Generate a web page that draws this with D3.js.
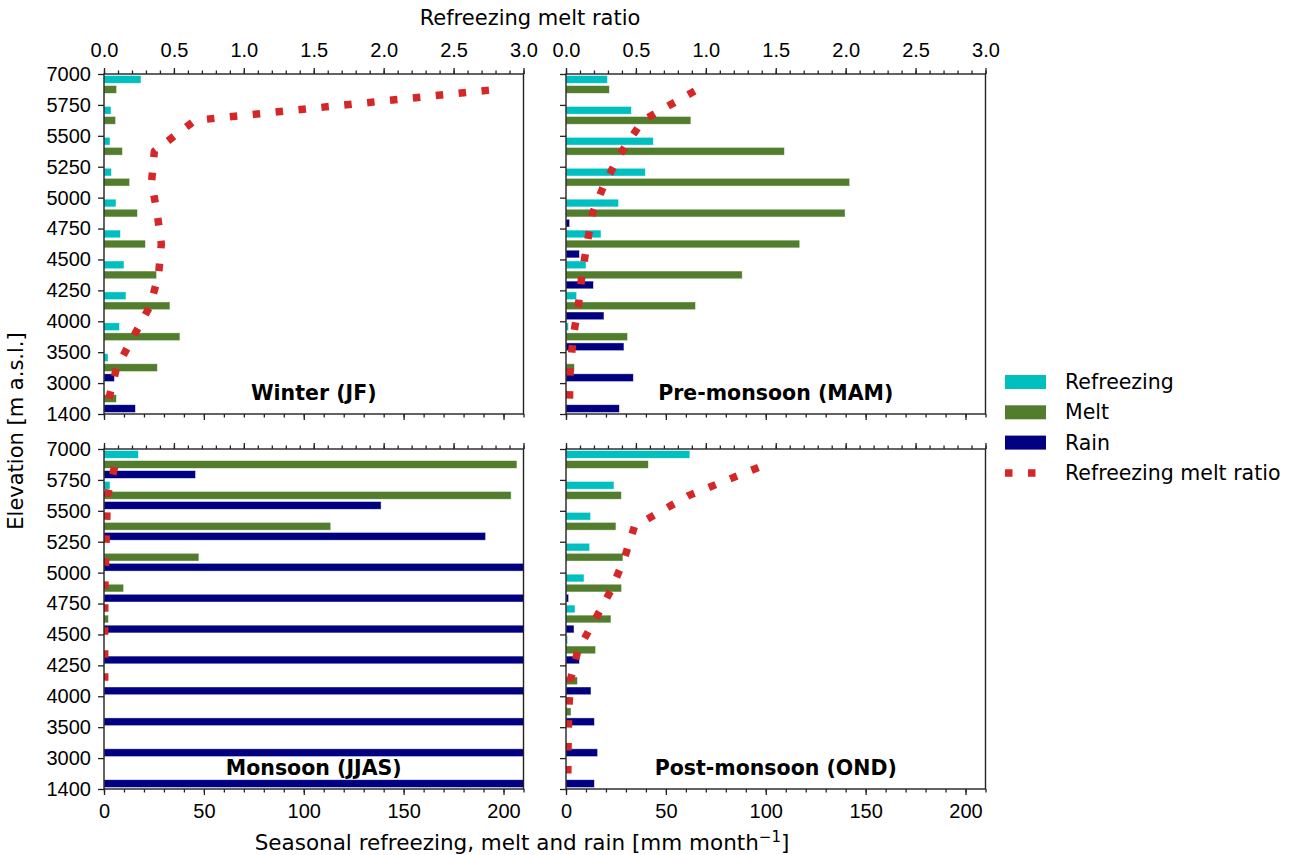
<!DOCTYPE html>
<html>
<head>
<meta charset="utf-8">
<script src="https://cdn.jsdelivr.net/npm/d3@7"></script>
<style>
  html, body { margin: 0; padding: 0; background: #fff; }
  svg { display: block; font-family: "DejaVu Sans", sans-serif; }
  .tick text { font-size: 20px; fill: #000; }
</style>
</head>
<body>
<svg id="chart" width="1298" height="855"></svg>
<script>
// Elevation band edges (m a.s.l.), listed top to bottom
const edges = [7000, 5750, 5500, 5250, 5000, 4750, 4500, 4250, 4000, 3500, 3000, 1400];
const bins = edges.slice(0, -1).map((e, i) => `${edges[i + 1]}-${e}`);

const seriesNames = ["Refreezing", "Melt", "Rain"];
const ratioName = "Refreezing melt ratio";
const xTicks = [0, 50, 100, 150, 200];
const ratioTicks = [0, 0.5, 1, 1.5, 2, 2.5, 3];

// Winter (JF) — mm month^-1 per band, top band first
const winterRefreezing = [18.5, 3.5, 3.0, 3.7, 6.0, 8.2, 10.0, 11.0, 7.7, 2.0, 0];
const winterMelt       = [6.3, 5.8, 9.2, 12.8, 16.7, 20.7, 26.3, 33.0, 38.0, 26.7, 6.2];
const winterRain       = [0, 0, 0, 0, 0, 0, 0, 0, 0, 5.2, 15.7];
const winterRatio      = [2.8, 0.65, 0.36, 0.34, 0.38, 0.41, 0.39, 0.33, 0.21, 0.09, 0.035];

// Pre-monsoon (MAM)
const premonRefreezing = [20.7, 32.7, 43.7, 39.7, 26.3, 17.5, 10.0, 5.3, 1.2, 0, 0];
const premonMelt       = [21.7, 62.5, 109.3, 142.0, 139.7, 117.0, 88.2, 64.8, 30.8, 4.2, 0];
const premonRain       = [0, 0, 0, 0, 1.8, 6.7, 13.7, 19.0, 29.0, 33.7, 26.7];
const premonRatio      = [0.94, 0.55, 0.40, 0.28, 0.19, 0.15, 0.114, 0.088, 0.052, 0.03, 0.025];

// Monsoon (JJAS) — rain below 5250 m runs past the axis limit
const monsoonRefreezing = [17.2, 3.0, 0, 0, 0, 0, 0, 0, 0, 0, 0];
const monsoonMelt       = [206.7, 203.8, 113.5, 47.5, 9.8, 2.2, 0, 0, 0, 0, 0];
const monsoonRain       = [45.8, 138.7, 191.0, 235, 250, 262, 270, 278, 285, 290, 295];
const monsoonRatio      = [0.08, 0.025, 0.018, 0.012, 0.006, 0.005, 0.005, 0.005, null, null, null];

// Post-monsoon (OND)
const postmonRefreezing = [62.0, 24.0, 12.3, 11.8, 9.0, 4.5, 0.8, 0, 0, 0, 0];
const postmonMelt       = [41.2, 27.7, 25.0, 28.5, 27.8, 22.5, 14.8, 5.7, 2.5, 0, 0];
const postmonRain       = [0, 0, 0, 0, 1.3, 4.0, 6.7, 12.5, 14.2, 15.8, 14.2];
const postmonRatio      = [1.43, 0.88, 0.49, 0.42, 0.33, 0.21, 0.086, 0.03, 0.02, 0.015, 0.013];

const panels = [
  { title: "Winter (JF)", refreezing: winterRefreezing, melt: winterMelt, rain: winterRain, ratio: winterRatio },
  { title: "Pre-monsoon (MAM)", refreezing: premonRefreezing, melt: premonMelt, rain: premonRain, ratio: premonRatio },
  { title: "Monsoon (JJAS)", refreezing: monsoonRefreezing, melt: monsoonMelt, rain: monsoonRain, ratio: monsoonRatio },
  { title: "Post-monsoon (OND)", refreezing: postmonRefreezing, melt: postmonMelt, rain: postmonRain, ratio: postmonRatio }
];

const colors = { Refreezing: "#00bfbf", Melt: "#527d2c", Rain: "#000080", ratio: "#d62728" };

const svg = d3.select("#chart");
const W = 419.5, H = 340;
const lefts = [104, 566], tops = [74, 449];

const x = d3.scaleLinear().domain([0, 210]).range([0, W]);
const xr = d3.scaleLinear().domain([0, 3]).range([0, W]);
const yEdge = d3.scalePoint().domain(edges).range([0, H]);
const yBin = d3.scaleBand().domain(bins).range([0, H]).padding(0);

const barH = 0.25, barOff = [-0.325, 0, 0.325];

panels.forEach((p, k) => {
  const col = k % 2, row = Math.floor(k / 2);
  const g = svg.append("g").attr("transform", `translate(${lefts[col]},${tops[row]})`);
  const clipId = `clip${k}`;
  g.append("clipPath").attr("id", clipId).append("rect").attr("width", W).attr("height", H);
  const plot = g.append("g").attr("clip-path", `url(#${clipId})`);

  const series = [p.refreezing, p.melt, p.rain];
  series.forEach((vals, s) => {
    plot.selectAll(null).data(vals.map((v, i) => ({ v, bin: bins[i] })))
      .join("rect")
      .attr("x", x(0))
      .attr("y", d => yBin(d.bin) + yBin.bandwidth() * (0.5 + barOff[s] - barH / 2))
      .attr("width", d => x(d.v) - x(0))
      .attr("height", yBin.bandwidth() * barH)
      .attr("fill", colors[seriesNames[s]])
      .attr("stroke", "#fff").attr("stroke-width", 0.7).attr("stroke-opacity", 0.6);
  });

  const line = d3.line()
    .defined(d => d.r != null)
    .x(d => xr(d.r))
    .y(d => yBin(d.bin) + yBin.bandwidth() / 2);
  plot.append("path")
    .datum(p.ratio.map((r, i) => ({ r, bin: bins[i] })).reverse())
    .attr("d", line)
    .attr("fill", "none")
    .attr("stroke", colors.ratio)
    .attr("stroke-width", 7.5)
    .attr("stroke-dasharray", "7.5 15.5")
    .attr("stroke-linejoin", "round");

  // Bottom axis: seasonal amounts
  g.append("g").attr("transform", `translate(0,${H})`)
    .call(d3.axisBottom(x).tickValues(xTicks).tickSize(6).tickPadding(9).tickSizeOuter(0)
      .tickFormat(row === 1 ? d3.format("d") : () => ""));
  g.append("g").attr("transform", `translate(0,${H})`)
    .call(d3.axisBottom(x).tickValues(d3.range(0, 211, 10)).tickSize(3.5).tickFormat(() => "").tickSizeOuter(0));

  // Top axis: refreezing melt ratio
  g.append("g")
    .call(d3.axisTop(xr).tickValues(ratioTicks).tickSize(6).tickPadding(11).tickSizeOuter(0)
      .tickFormat(row === 0 ? d3.format(".1f") : () => ""));
  g.append("g")
    .call(d3.axisTop(xr).tickValues(d3.range(0, 31).map(d => d / 10)).tickSize(3.5).tickFormat(() => "").tickSizeOuter(0));

  // Left axis: band edges
  g.append("g")
    .call(d3.axisLeft(yEdge).tickSize(6).tickPadding(7).tickSizeOuter(0)
      .tickFormat(col === 0 ? d => d : () => ""));

  g.selectAll(".domain").remove();
  g.selectAll(".tick line").attr("stroke", "#222").attr("stroke-width", 1.3);

  g.append("rect").attr("width", W).attr("height", H)
    .attr("fill", "none").attr("stroke", "#222").attr("stroke-width", 1.4);

  g.append("text")
    .attr("x", W / 2).attr("y", H - 14)
    .attr("text-anchor", "middle")
    .attr("font-weight", "bold").attr("font-size", 20.5)
    .text(p.title);
});

// Axis titles
svg.append("text").attr("x", 530).attr("y", 25).attr("text-anchor", "middle")
  .attr("font-size", 21).text("Refreezing melt ratio");

const xl = svg.append("text").attr("x", 522).attr("y", 850).attr("text-anchor", "middle").attr("font-size", 21.5);
xl.append("tspan").text("Seasonal refreezing, melt and rain [mm month");
xl.append("tspan").attr("dy", -8.5).attr("font-size", 15).text("\u22121");
xl.append("tspan").attr("dy", 8.5).text("]");

svg.append("text")
  .attr("transform", "translate(23,431) rotate(-90)")
  .attr("text-anchor", "middle").attr("font-size", 21)
  .text("Elevation [m a.s.l.]");

// Legend
const legend = svg.append("g").attr("transform", "translate(1005,382)");
const legendItems = [...seriesNames, ratioName];
legendItems.forEach((name, i) => {
  const gy = i * 30.3;
  if (i < 3) {
    legend.append("rect").attr("x", 0).attr("y", gy - 7).attr("width", 41).attr("height", 14)
      .attr("fill", colors[name]);
  } else {
    legend.append("line").attr("x1", 0).attr("x2", 41).attr("y1", gy).attr("y2", gy)
      .attr("stroke", colors.ratio).attr("stroke-width", 7.5).attr("stroke-dasharray", "7.5 15.5");
  }
  legend.append("text").attr("x", 60).attr("y", gy).attr("dy", "0.35em")
    .attr("font-size", 20.5).text(name);
});
</script>
</body>
</html>
